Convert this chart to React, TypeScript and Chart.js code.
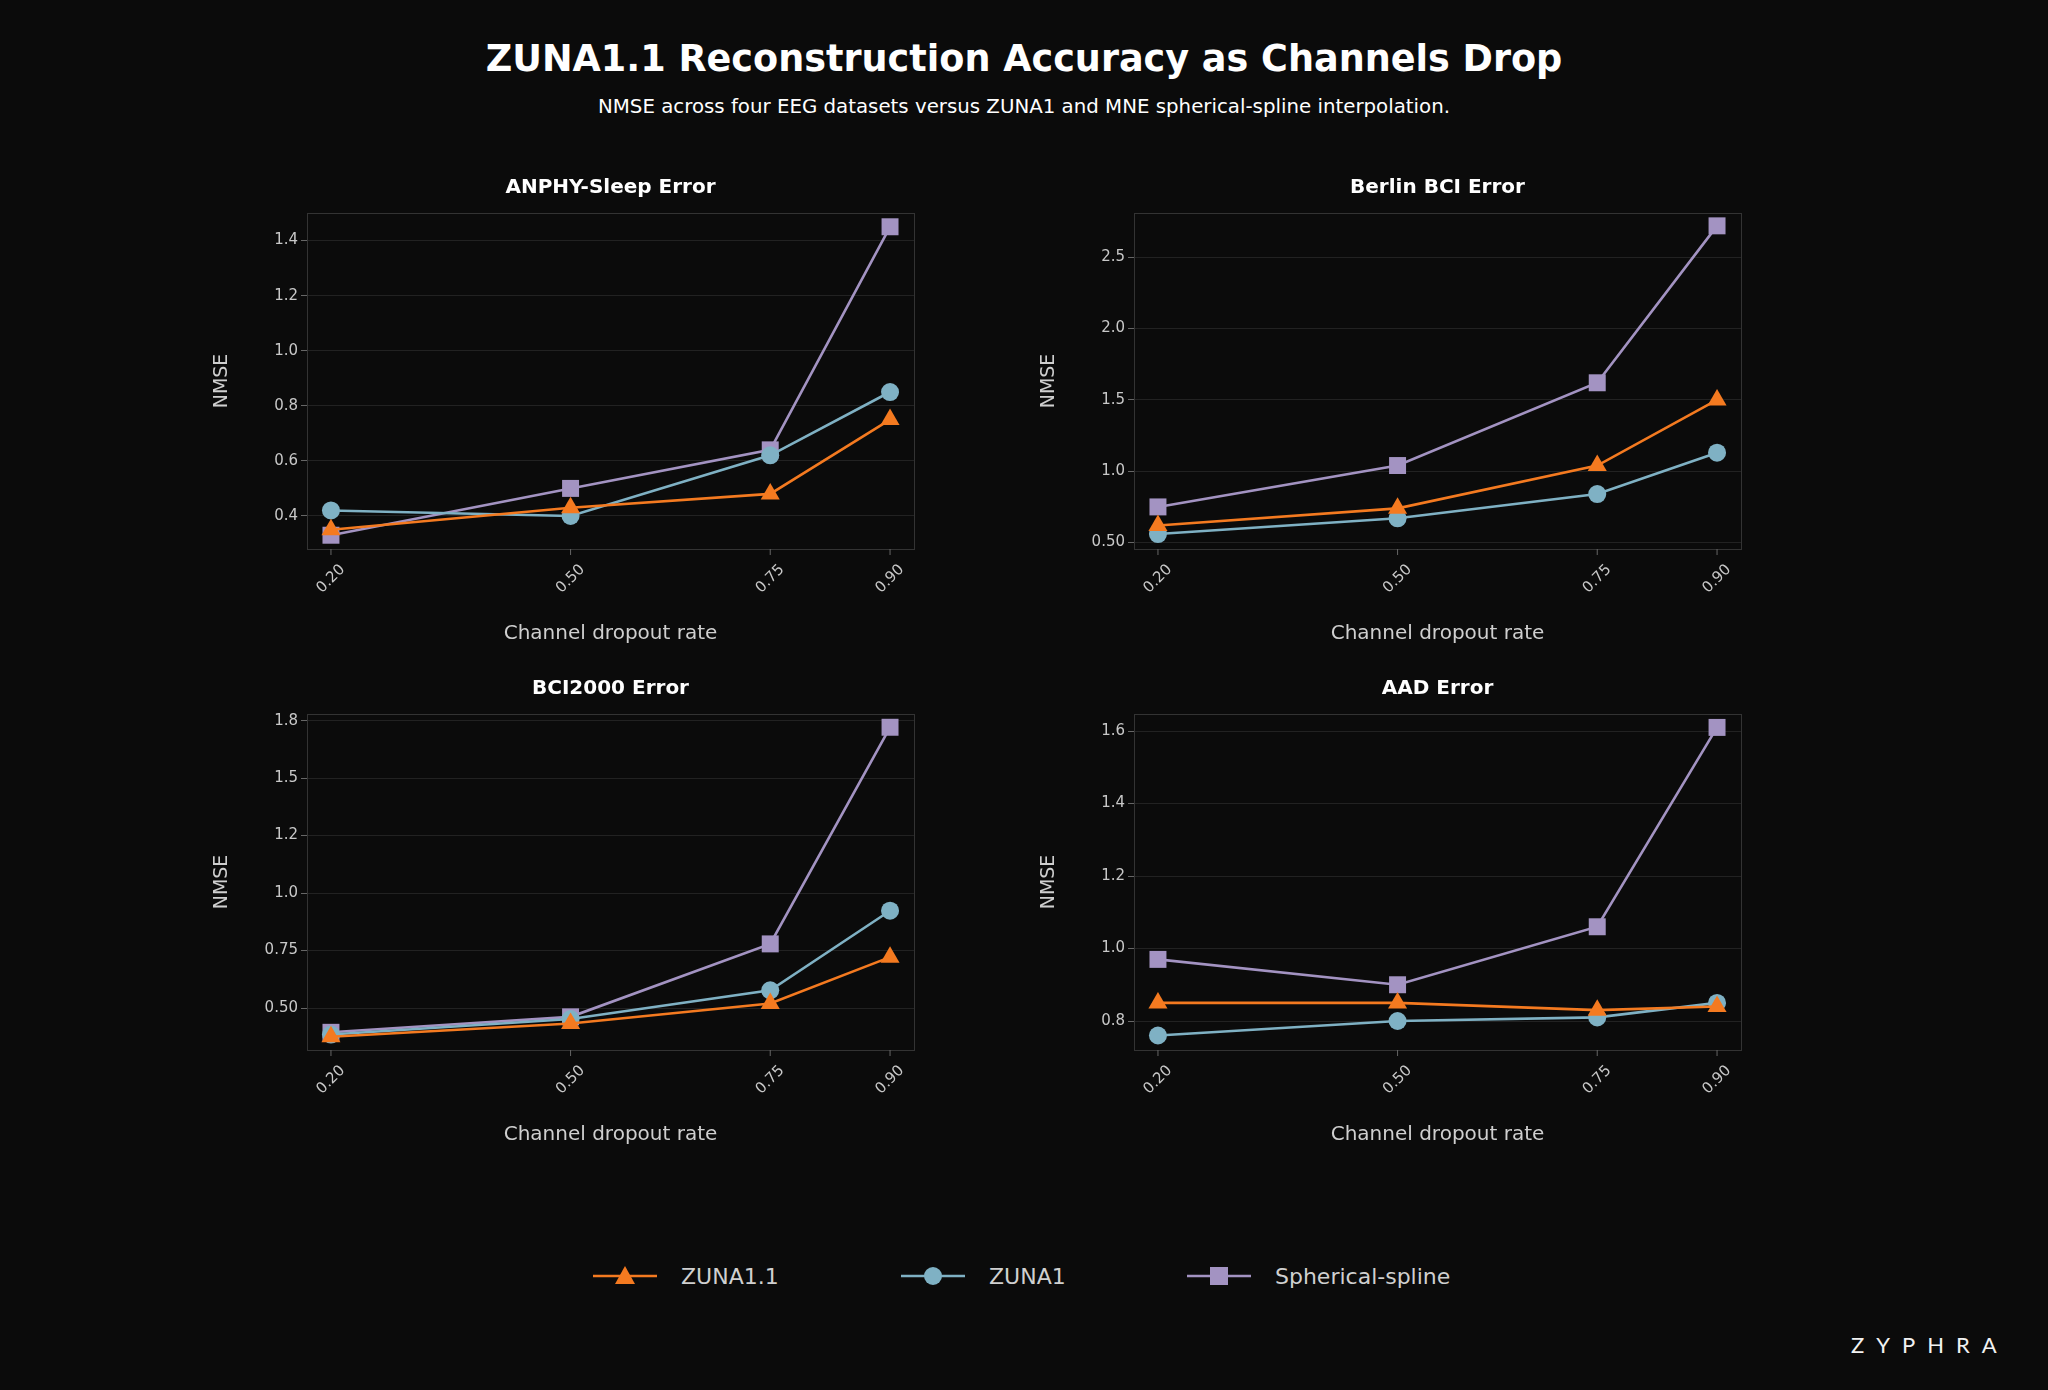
import React, { useEffect, useRef } from "react";
import { Chart, registerables } from "chart.js";
Chart.register(...registerables);

const FONT = "'DejaVu Sans', sans-serif";
const dropout = [0.2, 0.5, 0.75, 0.9];
const dropoutLabels = ["0.20", "0.50", "0.75", "0.90"];
const seriesNames = ["ZUNA1.1", "ZUNA1", "Spherical-spline"];
const seriesColors = ["#f47a20", "#7fb1c4", "#a393c2"];
const seriesMarkers = ["triangle", "circle", "rect"];

const panelTitles = ["ANPHY-Sleep Error", "Berlin BCI Error", "BCI2000 Error", "AAD Error"];
const anphy = [[0.35, 0.43, 0.48, 0.75], [0.42, 0.40, 0.62, 0.85], [0.33, 0.50, 0.64, 1.45]];
const berlin = [[0.62, 0.74, 1.04, 1.50], [0.56, 0.67, 0.84, 1.13], [0.75, 1.04, 1.62, 2.72]];
const bci2000 = [[0.37, 0.43, 0.52, 0.73], [0.38, 0.45, 0.58, 0.94], [0.39, 0.46, 0.79, 1.77]];
const aad = [[0.85, 0.85, 0.83, 0.84], [0.76, 0.80, 0.81, 0.85], [0.97, 0.90, 1.06, 1.61]];
const panelData = [anphy, berlin, bci2000, aad];

const yRanges = [[0.28, 1.5], [0.455, 2.81], [0.31, 1.83], [0.72, 1.647]];
const yTickVals = [
  [0.4, 0.6, 0.8, 1.0, 1.2, 1.4],
  [0.5, 1.0, 1.5, 2.0, 2.5],
  [0.5, 0.76, 1.02, 1.28, 1.54, 1.8],
  [0.8, 1.0, 1.2, 1.4, 1.6],
];
const yTickLabels = [
  ["0.4", "0.6", "0.8", "1.0", "1.2", "1.4"],
  ["0.50", "1.0", "1.5", "2.0", "2.5"],
  ["0.50", "0.75", "1.0", "1.2", "1.5", "1.8"],
  ["0.8", "1.0", "1.2", "1.4", "1.6"],
];

const boxPlugin = {
  id: "box",
  afterDraw(chart: any) {
    const { ctx, chartArea: a } = chart;
    ctx.save();
    ctx.strokeStyle = "#333";
    ctx.lineWidth = 1;
    ctx.strokeRect(a.left + 0.5, a.top + 0.5, a.right - a.left, a.bottom - a.top);
    const xs = chart.scales.x;
    ctx.fillStyle = "#c8c8c8";
    ctx.strokeStyle = "#666";
    ctx.font = `15px ${FONT}`;
    ctx.textAlign = "center";
    ctx.textBaseline = "middle";
    dropout.forEach((v, i) => {
      const x = xs.getPixelForValue(v);
      ctx.beginPath();
      ctx.moveTo(x, a.bottom);
      ctx.lineTo(x, a.bottom + 6);
      ctx.stroke();
      ctx.save();
      ctx.translate(x, a.bottom + 30);
      ctx.rotate(-Math.PI / 4);
      ctx.fillText(dropoutLabels[i], 0, 0);
      ctx.restore();
    });
    ctx.restore();
  },
};

function Panel({ idx, left, top }: { idx: number; left: number; top: number }) {
  const ref = useRef<HTMLCanvasElement>(null);
  useEffect(() => {
    const d = panelData[idx];
    const chart = new Chart(ref.current!, {
      type: "line",
      data: {
        datasets: seriesNames.map((n, i) => ({
          label: n,
          data: dropout.map((x, j) => ({ x, y: d[i][j] })),
          borderColor: seriesColors[i],
          backgroundColor: seriesColors[i],
          borderWidth: 2.6,
          pointStyle: seriesMarkers[i] as any,
          pointRadius: i === 0 ? 11 : i === 1 ? 9 : 12,
          pointBorderWidth: 0,
          order: i === 2 ? 3 : i === 1 ? 2 : 1,
        })),
      },
      options: {
        animation: false,
        responsive: false,
        layout: { padding: { left: 0, right: 20, top: 50, bottom: 0 } },
        plugins: { legend: { display: false }, tooltip: { enabled: false } },
        scales: {
          x: {
            type: "linear",
            min: 0.17,
            max: 0.93,
            afterFit: (s: any) => { s.height = 111; },
            afterBuildTicks: (s: any) => { s.ticks = dropout.map((v) => ({ value: v })); },
            ticks: { display: false },
            grid: { display: false },
            border: { color: "#333" },
            title: { display: true, text: "Channel dropout rate", color: "#cfcfcf", font: { family: FONT, size: 20 }, padding: { top: 4, bottom: 14 } },
          },
          y: {
            type: "linear",
            min: yRanges[idx][0],
            max: yRanges[idx][1],
            afterFit: (s: any) => { s.width = 100; },
            afterBuildTicks: (s: any) => { s.ticks = yTickVals[idx].map((v) => ({ value: v })); },
            ticks: {
              color: "#c8c8c8",
              font: { family: FONT, size: 15 },
              callback: (_v: any, i: number) => yTickLabels[idx][i],
            },
            grid: { color: "#222", tickColor: "#666", tickLength: 6 },
            border: { color: "#333" },
            title: { display: true, text: "NMSE", color: "#cfcfcf", font: { family: FONT, size: 19 }, padding: { bottom: 12 } },
          },
        },
      },
      plugins: [boxPlugin],
    } as any);
    return () => chart.destroy();
  }, [idx]);
  return (
    <div style={{ position: "absolute", left, top }}>
      <div style={{ position: "absolute", left: 100, width: 607, top: 11, textAlign: "center", color: "#fff", fontWeight: "bold", fontSize: 20, fontFamily: FONT }}>
        {panelTitles[idx]}
      </div>
      <canvas ref={ref} width={727} height={497} style={{ display: "block", width: 727, height: 497 }} />
    </div>
  );
}

function LegendMarker({ i }: { i: number }) {
  const c = seriesColors[i];
  return (
    <svg width={64} height={24} style={{ verticalAlign: "middle" }}>
      <line x1={0} y1={12} x2={64} y2={12} stroke={c} strokeWidth={2.6} />
      {i === 0 && <polygon points="32,2 42,20 22,20" fill={c} />}
      {i === 1 && <circle cx={32} cy={12} r={9} fill={c} />}
      {i === 2 && <rect x={23} y={3} width={18} height={18} fill={c} />}
    </svg>
  );
}

export default function App() {
  const legendX = [593, 901, 1187];
  return (
    <div style={{ position: "absolute", left: 0, top: 0, width: 2048, height: 1390, background: "#0b0b0b", overflow: "hidden", fontFamily: FONT }}>
      <div style={{ position: "absolute", top: 37, width: "100%", textAlign: "center", color: "#fff", fontWeight: "bold", fontSize: 36.6 }}>
        ZUNA1.1 Reconstruction Accuracy as Channels Drop
      </div>
      <div style={{ position: "absolute", top: 95, width: "100%", textAlign: "center", color: "#fff", fontSize: 19.8 }}>
        NMSE across four EEG datasets versus ZUNA1 and MNE spherical-spline interpolation.
      </div>
      <Panel idx={0} left={207} top={163} />
      <Panel idx={1} left={1034} top={163} />
      <Panel idx={2} left={207} top={664} />
      <Panel idx={3} left={1034} top={664} />
      {seriesNames.map((n, i) => (
        <div key={n} style={{ position: "absolute", left: legendX[i], top: 1262, color: "#d0d0d0", fontSize: 22, whiteSpace: "nowrap" }}>
          <LegendMarker i={i} />
          <span style={{ marginLeft: 24, verticalAlign: "middle" }}>{n}</span>
        </div>
      ))}
      <div style={{ position: "absolute", left: 1851, top: 1331, color: "#f2f2f2", fontSize: 22, fontWeight: 400, fontFamily: "Lato, sans-serif", letterSpacing: 12 }}>ZYPHRA</div>
    </div>
  );
}
